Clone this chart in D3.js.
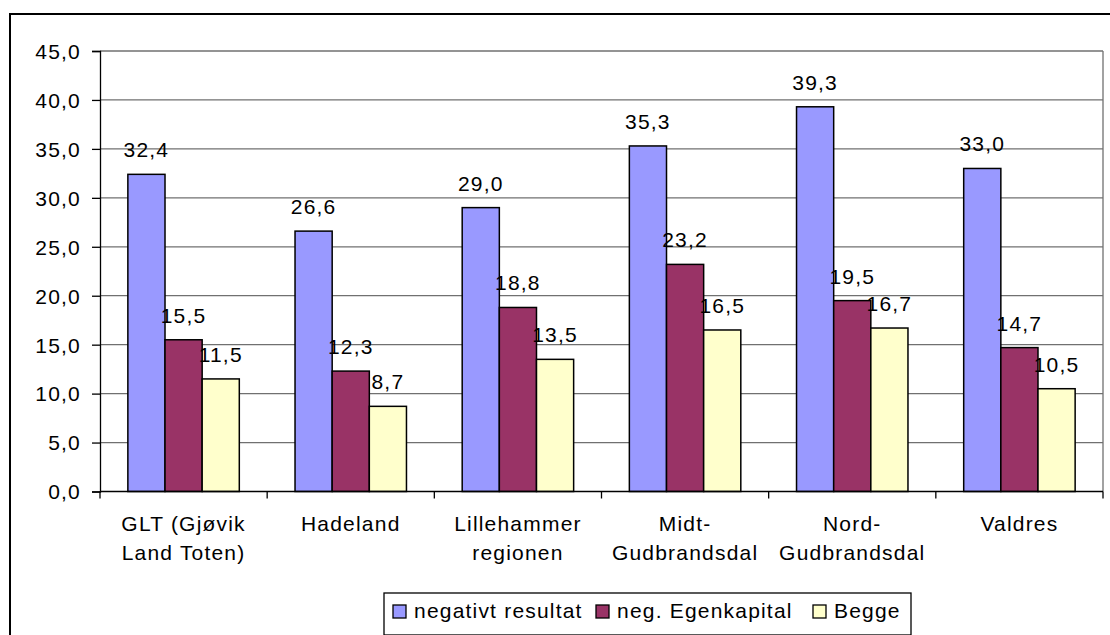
<!DOCTYPE html>
<html>
<head>
<meta charset="utf-8">
<script src="https://cdn.jsdelivr.net/npm/d3@7"></script>
<style>
  body { margin: 0; background: #fff; }
  svg text { font-family: "Liberation Sans", Arial, sans-serif; font-size: 21px; letter-spacing: 1.2px; fill: #000; }
</style>
</head>
<body>
<main></main>
<script>
'use strict'

var categories = ['GLT (Gjøvik\nLand Toten)', 'Hadeland', 'Lillehammer\nregionen', 'Midt-\nGudbrandsdal', 'Nord-\nGudbrandsdal', 'Valdres']
var seriesNames = ['negativt resultat', 'neg. Egenkapital', 'Begge']
var negativtResultat = [32.4, 26.6, 29.0, 35.3, 39.3, 33.0]
var negEgenkapital   = [15.5, 12.3, 18.8, 23.2, 19.5, 14.7]
var begge            = [11.5, 8.7, 13.5, 16.5, 16.7, 10.5]
var yTicks = [0, 5, 10, 15, 20, 25, 30, 35, 40, 45]
var colors = ['#9999ff', '#993366', '#ffffcc']

var width = 1110, height = 635
var plot = { left: 100, right: 1103, top: 51, bottom: 491.5 }

var fmt = function (v) { return d3.format('.1f')(v).replace('.', ',') }

var svg = d3.select('main').append('svg')
  .attr('width', width)
  .attr('height', height)

// outer chart frame
svg.append('rect')
  .attr('x', 10).attr('y', 14)
  .attr('width', 1110).attr('height', 640)
  .attr('fill', 'none').attr('stroke', '#000').attr('stroke-width', 2)

var x = d3.scaleBand().domain(d3.range(categories.length)).range([plot.left, plot.right])
// gap width 150% -> 3 bars + 1.5 bar gap per category
var xs = d3.scaleBand().domain(d3.range(3)).range([0, x.bandwidth()]).paddingOuter(0.75).paddingInner(0)
var y = d3.scaleLinear().domain([0, 45]).range([plot.bottom, plot.top])

// gridlines
svg.append('g').selectAll('line')
  .data(yTicks.filter(function (t) { return t > 0 }))
  .enter().append('line')
  .attr('x1', plot.left).attr('x2', plot.right)
  .attr('y1', function (d) { return y(d) }).attr('y2', function (d) { return y(d) })
  .attr('stroke', '#707070').attr('stroke-width', 1.3)

svg.append('line')
  .attr('x1', plot.right).attr('x2', plot.right)
  .attr('y1', plot.top).attr('y2', plot.bottom)
  .attr('stroke', '#707070').attr('stroke-width', 1.3)

// y axis
var yAxis = svg.append('g')
  .attr('transform', 'translate(' + plot.left + ',0)')
  .call(d3.axisLeft(y).tickValues(yTicks).tickFormat(fmt).tickSizeOuter(0).tickSize(8).tickPadding(11))
yAxis.select('.domain').attr('stroke', '#000').attr('stroke-width', 1.3)
yAxis.selectAll('.tick line').attr('stroke', '#000').attr('stroke-width', 1.3)
yAxis.selectAll('text').attr('font-size', null).attr('font-family', null).attr('dy', '0.35em')

// bars
var series = [negativtResultat, negEgenkapital, begge]
series.forEach(function (vals, si) {
  var g = svg.append('g')
  g.selectAll('rect')
    .data(vals)
    .enter().append('rect')
    .attr('x', function (d, i) { return x(i) + xs(si) })
    .attr('y', function (d) { return y(d) })
    .attr('width', xs.bandwidth())
    .attr('height', function (d) { return y(0) - y(d) })
    .attr('fill', colors[si])
    .attr('stroke', '#000').attr('stroke-width', 1.5)

  g.selectAll('text')
    .data(vals)
    .enter().append('text')
    .attr('x', function (d, i) { return x(i) + xs(si) + xs.bandwidth() / 2 })
    .attr('y', function (d) { return y(d) - 17 })
    .attr('text-anchor', 'middle')
    .text(fmt)
})

// x axis
var xAxis = svg.append('g')
svg.append('line')
  .attr('x1', plot.left).attr('x2', plot.right)
  .attr('y1', plot.bottom).attr('y2', plot.bottom)
  .attr('stroke', '#000').attr('stroke-width', 1.3)
xAxis.selectAll('line')
  .data(d3.range(categories.length + 1))
  .enter().append('line')
  .attr('x1', function (i) { return plot.left + i * x.step() })
  .attr('x2', function (i) { return plot.left + i * x.step() })
  .attr('y1', plot.bottom).attr('y2', plot.bottom + 7)
  .attr('stroke', '#000').attr('stroke-width', 1.3)

xAxis.selectAll('text')
  .data(categories)
  .enter().append('text')
  .attr('text-anchor', 'middle')
  .attr('transform', function (d, i) { return 'translate(' + (x(i) + x.bandwidth() / 2) + ',531)' })
  .each(function (d) {
    var t = d3.select(this)
    d.split('\n').forEach(function (line, li) {
      t.append('tspan').attr('x', 0).attr('y', li * 29).text(line)
    })
  })

// legend
var legend = svg.append('g')
legend.append('rect')
  .attr('x', 384).attr('y', 593)
  .attr('width', 527).attr('height', 42)
  .attr('fill', '#fff').attr('stroke', '#000').attr('stroke-width', 1.3)

var legendX = [393, 596, 813]
seriesNames.forEach(function (name, i) {
  legend.append('rect')
    .attr('x', legendX[i]).attr('y', 605)
    .attr('width', 13).attr('height', 13)
    .attr('fill', colors[i]).attr('stroke', '#000').attr('stroke-width', 1.3)
  legend.append('text')
    .attr('x', legendX[i] + 21).attr('y', 618)
    .text(name)
})
</script>
</body>
</html>
